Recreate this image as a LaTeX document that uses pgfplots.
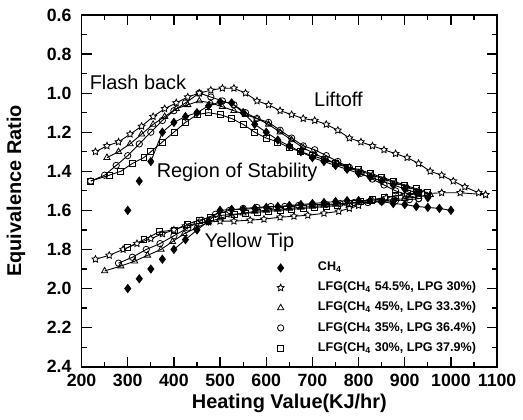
\documentclass[border=0pt]{standalone}
\usepackage{fontspec}
\setmainfont{Liberation Sans}
\usepackage{pgfplots}
\pgfplotsset{compat=1.18}
\usetikzlibrary{plotmarks}

% outlined five-pointed star
\pgfdeclareplotmark{ostar}{%
  \pgfpathmoveto{\pgfpointpolar{90}{\pgfplotmarksize}}%
  \pgfpathlineto{\pgfpointpolar{126}{0.5\pgfplotmarksize}}%
  \pgfpathlineto{\pgfpointpolar{162}{\pgfplotmarksize}}%
  \pgfpathlineto{\pgfpointpolar{198}{0.5\pgfplotmarksize}}%
  \pgfpathlineto{\pgfpointpolar{234}{\pgfplotmarksize}}%
  \pgfpathlineto{\pgfpointpolar{270}{0.5\pgfplotmarksize}}%
  \pgfpathlineto{\pgfpointpolar{306}{\pgfplotmarksize}}%
  \pgfpathlineto{\pgfpointpolar{342}{0.5\pgfplotmarksize}}%
  \pgfpathlineto{\pgfpointpolar{18}{\pgfplotmarksize}}%
  \pgfpathlineto{\pgfpointpolar{54}{0.5\pgfplotmarksize}}%
  \pgfpathclose\pgfusepathqfillstroke}

\begin{document}
\begin{tikzpicture}
\begin{axis}[
  scale only axis,
  width=208.5pt, height=176.5pt,
  xmin=200, xmax=1100, ymin=0.6, ymax=2.4,
  y dir=reverse,
  xtick={200,300,...,1100},
  ytick={0.6,0.8,1.0,1.2,1.4,1.6,1.8,2.0,2.2,2.4},
  minor tick num=1,
  major tick length=5pt, minor tick length=2.5pt,
  tick style={black, line width=0.6pt},
  axis line style={line width=0.8pt},
  tick label style={font=\bfseries\fontsize{8.9}{9}\selectfont},
  xticklabel style={/pgf/number format/.cd, set thousands separator={}},
  yticklabel style={xshift=-1.5pt, /pgf/number format/.cd, fixed, fixed zerofill, precision=1},
  /pgf/number format/assume math mode=true,
  xlabel={Heating Value(KJ/hr)},
  ylabel={Equivalence Ratio},
  label style={font=\bfseries\fontsize{10}{11}\selectfont},
  xlabel style={yshift=3pt},
  ylabel style={yshift=4pt},
  every axis plot/.append style={black, line width=0.45pt},
  legend style={draw=none, fill=none, at={(rel axis cs:0.47,0.31)}, anchor=north west,
    font=\bfseries\fontsize{6.3}{7}\selectfont, row sep=0pt, column sep=15pt, inner sep=0pt},
  legend cell align=left,
]
% legend entries (markers only)
\addlegendimage{only marks, mark=diamond*, mark size=2pt, black}
\addlegendentry{CH\textsubscript{4}}
\addlegendimage{only marks, mark=ostar, mark size=1.8pt, black, mark options={fill=white, line width=0.4pt}}
\addlegendentry{LFG(CH\textsubscript{4} 54.5\%, LPG 30\%)}
\addlegendimage{only marks, mark=triangle, mark size=1.8pt, black, mark options={fill=white, line width=0.4pt}}
\addlegendentry{LFG(CH\textsubscript{4} 45\%, LPG 33.3\%)}
\addlegendimage{only marks, mark=o, mark size=1.6pt, black, mark options={fill=white, line width=0.4pt}}
\addlegendentry{LFG(CH\textsubscript{4} 35\%, LPG 36.4\%)}
\addlegendimage{only marks, mark=square, mark size=1.5pt, black, mark options={fill=white, line width=0.4pt}}
\addlegendentry{LFG(CH\textsubscript{4} 30\%, LPG 37.9\%)}

% ---- LFG 54.5% (star)
\addplot[forget plot, mark=ostar, mark size=1.8pt, mark options={fill=white, line width=0.4pt}] coordinates {
 (230,1.30) (255,1.27) (280,1.25) (305,1.21) (330,1.17) (355,1.12) (380,1.08) (405,1.05)
 (430,1.02) (455,1.00) (480,0.985) (505,0.975) (530,0.975) (555,1.00) (580,1.04) (605,1.06)
 (630,1.09) (655,1.11) (680,1.13) (705,1.14) (730,1.16) (755,1.19) (780,1.23) (805,1.25)
 (830,1.27) (855,1.29) (880,1.31) (905,1.33) (930,1.36) (955,1.40) (980,1.42) (1005,1.45)
 (1030,1.48) (1060,1.51) (1075,1.52)};
\addplot[forget plot, mark=ostar, mark size=1.8pt, mark options={fill=white, line width=0.4pt}] coordinates {
 (230,1.85) (260,1.83) (290,1.80) (320,1.77) (350,1.745) (375,1.72) (400,1.70) (425,1.68)
 (450,1.665) (475,1.66) (500,1.655) (530,1.655) (565,1.65) (595,1.645) (630,1.635) (660,1.63)
 (690,1.625) (725,1.615) (757,1.605) (780,1.59) (800,1.575) (830,1.55) (860,1.535) (900,1.52)
 (940,1.515) (980,1.51) (1020,1.51) (1075,1.52)};

% ---- LFG 45% (triangle)
\addplot[forget plot, mark=triangle, mark size=1.8pt, mark options={fill=white, line width=0.4pt}] coordinates {
 (255,1.33) (280,1.30) (305,1.26) (330,1.21) (355,1.16) (380,1.12) (405,1.08) (430,1.06)
 (455,1.04) (480,1.05) (505,1.07) (530,1.09) (555,1.11) (580,1.13) (605,1.16) (630,1.20)
 (655,1.24) (680,1.28) (705,1.31) (730,1.34) (755,1.36) (780,1.38) (805,1.40) (830,1.42)
 (855,1.44) (880,1.46) (905,1.48) (930,1.50) (955,1.52)};
\addplot[forget plot, mark=triangle, mark size=1.8pt, mark options={fill=white, line width=0.4pt}] coordinates {
 (250,1.91) (285,1.885) (315,1.86) (343,1.83) (372,1.80) (397,1.76) (422,1.72) (448,1.69)
 (475,1.66) (500,1.64) (525,1.625) (550,1.615) (575,1.605) (600,1.60) (625,1.595) (650,1.59)
 (675,1.585) (700,1.58) (725,1.575) (750,1.57) (775,1.565) (800,1.56) (825,1.555) (850,1.55)
 (875,1.545) (900,1.54) (930,1.53) (955,1.52)};

% ---- LFG 35% (circle)
\addplot[forget plot, mark=o, mark size=1.6pt, mark options={fill=white, line width=0.4pt}] coordinates {
 (220,1.45) (250,1.42) (275,1.37) (300,1.32) (325,1.26) (350,1.20) (375,1.14) (400,1.09)
 (425,1.05) (455,1.00) (480,1.02) (505,1.04) (530,1.06) (555,1.10) (580,1.13) (605,1.15)
 (630,1.19) (655,1.23) (680,1.27) (705,1.29) (730,1.32) (755,1.35) (780,1.38) (805,1.41)
 (830,1.44) (855,1.47) (880,1.50) (905,1.52) (930,1.54)};
\addplot[forget plot, mark=o, mark size=1.6pt, mark options={fill=white, line width=0.4pt}] coordinates {
 (280,1.87) (310,1.84) (340,1.80) (370,1.77) (400,1.73) (430,1.69) (460,1.65) (490,1.62)
 (520,1.60) (550,1.59) (580,1.585) (610,1.58) (640,1.58) (670,1.575) (700,1.57) (730,1.57)
 (760,1.565) (790,1.56) (820,1.56) (850,1.555) (880,1.55) (910,1.545) (930,1.54)};

% ---- LFG 30% (square)
\addplot[forget plot, mark=square, mark size=1.5pt, mark options={fill=white, line width=0.4pt}] coordinates {
 (220,1.45) (260,1.42) (285,1.40) (310,1.36) (335,1.33) (350,1.30) (375,1.25) (400,1.20)
 (425,1.15) (450,1.11) (475,1.10) (500,1.11) (525,1.13) (550,1.16) (575,1.20) (600,1.23)
 (625,1.25) (650,1.28) (675,1.30) (700,1.32) (725,1.34) (750,1.36) (775,1.38) (800,1.39)
 (825,1.41) (850,1.43) (875,1.45) (900,1.47) (925,1.49) (950,1.51)};
\addplot[forget plot, mark=square, mark size=1.5pt, mark options={fill=white, line width=0.4pt}] coordinates {
 (300,1.79) (335,1.75) (368,1.71) (401,1.70) (430,1.67) (455,1.65) (480,1.635) (505,1.625)
 (530,1.62) (555,1.615) (580,1.61) (605,1.605) (630,1.60) (655,1.595) (680,1.59) (705,1.585)
 (730,1.58) (755,1.575) (780,1.565) (805,1.555) (830,1.545) (855,1.535) (880,1.525) (905,1.515)
 (930,1.51) (950,1.51)};

% ---- CH4 (filled diamond)
\addplot[forget plot, only marks, mark=diamond*, mark size=2pt] coordinates {
 (300,1.60) (325,1.45) (300,2.00) (325,1.95) (350,1.90) (375,1.85)};
\addplot[forget plot, mark=diamond*, mark size=2pt] coordinates {
 (350,1.35) (375,1.20) (400,1.15) (425,1.12) (450,1.10) (475,1.065) (500,1.045) (525,1.05)
 (550,1.10) (575,1.16) (600,1.20) (625,1.24) (650,1.27) (675,1.30) (700,1.33) (725,1.35)
 (750,1.37) (775,1.39) (800,1.41) (825,1.43) (850,1.45) (875,1.47) (900,1.49) (925,1.51)
 (950,1.535)};
\addplot[forget plot, mark=diamond*, mark size=2pt] coordinates {
 (400,1.80) (425,1.75) (450,1.70) (475,1.655) (500,1.60) (525,1.595) (550,1.595) (575,1.59)
 (600,1.585) (625,1.58) (650,1.575) (675,1.57) (700,1.565) (725,1.56) (750,1.555) (775,1.55)
 (800,1.55) (825,1.55) (850,1.555) (875,1.565) (900,1.57) (925,1.58) (950,1.585) (975,1.59)
 (1000,1.60)};

% region labels
\node[anchor=west, font=\fontsize{10}{11}\selectfont, inner sep=0pt] at (axis cs:217,0.947) {Flash back};
\node[anchor=west, font=\fontsize{10}{11}\selectfont, inner sep=0pt] at (axis cs:703,1.034) {Liftoff};
\node[anchor=west, font=\fontsize{10}{11}\selectfont, inner sep=0pt] at (axis cs:362,1.406) {Region of Stability};
\node[anchor=west, font=\fontsize{10}{11}\selectfont, inner sep=0pt] at (axis cs:466,1.763) {Yellow Tip};
\end{axis}
\path ([yshift=7.5pt]current axis.north);
\end{tikzpicture}
\end{document}
